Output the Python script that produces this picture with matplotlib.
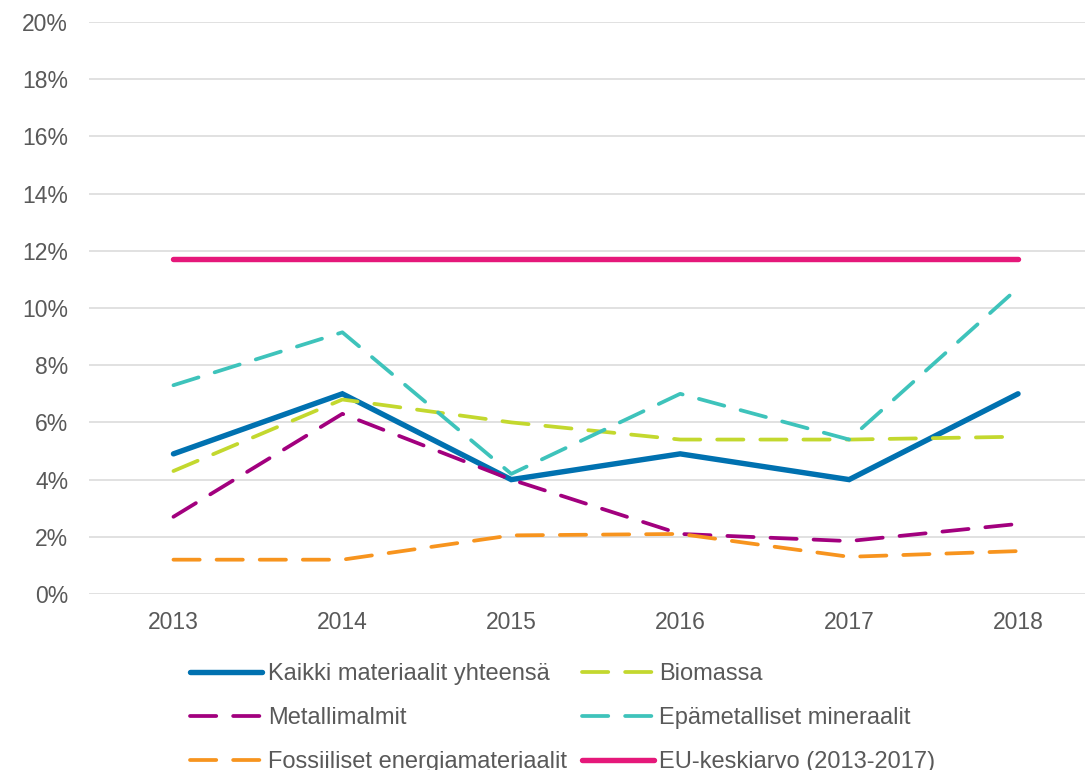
import matplotlib
matplotlib.use("Agg")
import matplotlib.pyplot as plt
from matplotlib.ticker import FuncFormatter

years = ["2013", "2014", "2015", "2016", "2017", "2018"]
kaikki = [4.9, 7.0, 4.0, 4.9, 4.0, 7.0]
biomassa = [4.3, 6.8, 6.0, 5.4, 5.4, 5.5]
metallimalmit = [2.7, 6.3, 4.0, 2.1, 1.85, 2.45]
epametalliset = [7.3, 9.15, 4.2, 7.0, 5.4, 10.7]
fossiiliset = [1.2, 1.2, 2.05, 2.1, 1.3, 1.5]
eu_keskiarvo = [11.7, 11.7, 11.7, 11.7, 11.7, 11.7]
y_ticks = [0, 2, 4, 6, 8, 10, 12, 14, 16, 18, 20]

labels = ["Kaikki materiaalit yhteensä", "Biomassa", "Metallimalmit",
          "Epämetalliset mineraalit", "Fossiiliset energiamateriaalit",
          "EU-keskiarvo (2013-2017)"]

plt.rcParams['font.family'] = ['Liberation Sans', 'DejaVu Sans']
text_color = "#595959"

fig = plt.figure(figsize=(10.87, 7.70), dpi=100)
ax = fig.add_axes([89/1087, (770-594)/770, (1085-89)/1087, (594-22)/770])

x = list(range(len(years)))
dash = (7.0, 4.5)
series = [
    (kaikki, "#0071B0", 3.9, None),
    (biomassa, "#C3D82E", 2.7, dash),
    (metallimalmit, "#A2007E", 2.7, dash),
    (epametalliset, "#3EC3BB", 2.7, dash),
    (fossiiliset, "#F7941E", 2.7, dash),
    (eu_keskiarvo, "#E5187A", 3.9, None),
]
handles = []
for (vals, col, lw, d), lab in zip(series, labels):
    ln, = ax.plot(x, vals, color=col, lw=lw, label=lab,
                  solid_capstyle='round', dash_capstyle='round',
                  solid_joinstyle='miter', zorder=3)
    if d is not None:
        ln.set_dashes(d)
    handles.append(ln)

ax.set_xlim(-0.5, (1085-173)/169)
ax.set_ylim(0, 20)
ax.set_yticks(y_ticks)
ax.yaxis.set_major_formatter(FuncFormatter(lambda v, p: f"{v:.0f}%"))
ax.set_xticks(x)
ax.set_xticklabels(years)
ax.grid(axis='y', color="#D9D9D9", lw=1.1, zorder=0)
ax.set_axisbelow(True)
for s in ax.spines.values():
    s.set_visible(False)
ax.tick_params(axis='both', length=0, labelsize=16.5, colors=text_color)
ax.tick_params(axis='y', pad=15)
ax.tick_params(axis='x', pad=12.5)

order = [0, 2, 4, 1, 3, 5]
leg = fig.legend([handles[i] for i in order], [labels[i] for i in order],
                 ncol=2, loc='upper left', bbox_to_anchor=(190/1087, 1 - 663/770),
                 frameon=False, fontsize=17, handlelength=3.05, handletextpad=0.25,
                 columnspacing=0.62, labelspacing=0.93, borderpad=0, borderaxespad=0)
for t in leg.get_texts():
    t.set_color(text_color)

fig.savefig("out.png", dpi=100)
